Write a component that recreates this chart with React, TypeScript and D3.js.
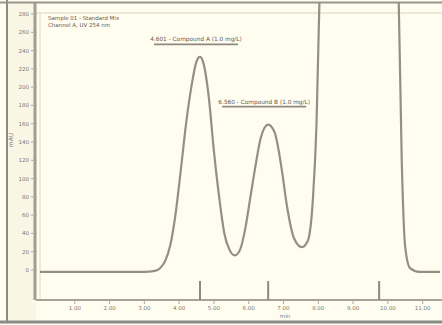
import React from "react";
import * as d3 from "d3";

const W = 442;
const H = 325;

// chromatogram trace: time (min), signal (mAU)
const times = [0.0, 1.0, 2.0, 3.0, 3.3, 3.45, 3.6, 3.75, 3.9, 4.05, 4.2, 4.35, 4.5, 4.6, 4.7, 4.85, 5.0, 5.15, 5.3, 5.45, 5.6, 5.75, 5.9, 6.05, 6.2, 6.35, 6.56, 6.75, 6.95, 7.1, 7.3, 7.53, 7.7, 7.85, 7.95, 8.05, 8.15, 10.2, 10.3, 10.4, 10.5, 10.64, 10.9, 11.5];
const signal = [-2, -2, -2, -2, -1, 2, 10, 28, 62, 110, 160, 200, 228, 233, 226, 190, 130, 80, 40, 22, 16, 22, 45, 80, 115, 145, 159, 150, 110, 70, 35, 25, 32, 80, 160, 320, 400, 400, 320, 120, 25, 2, -2, -2];

const peakTimes = [4.6, 6.56, 9.75];
const peakLabels = ["4.601 - Compound A (1.0 mg/L)", "6.560 - Compound B (1.0 mg/L)"];
const peakLabelTimes = [4.6, 6.56];
const peakLabelValues = [250, 182];

const legendLines = ["Sample 01 - Standard Mix", "Channel A, UV 254 nm"];

const xTicks = [1, 2, 3, 4, 5, 6, 7, 8, 9, 10, 11];
const yTicks = [0, 20, 40, 60, 80, 100, 120, 140, 160, 180, 200, 220, 240, 260, 280];

export default function App() {
  const x = d3.scaleLinear().domain([0, 11.5]).range([40, 440]);
  const y = d3.scaleLinear().domain([0, 280]).range([270, 14]);

  const pts: [number, number][] = times.map((t, i) => [t, signal[i]]);
  const line = d3
    .line<[number, number]>()
    .x((d) => x(d[0]))
    .y((d) => y(d[1]))
    .curve(d3.curveMonotoneX);

  const font = "DejaVu Sans, sans-serif";
  const ink = "#978e82";

  return (
    <svg
      width={W}
      height={H}
      style={{ position: "absolute", left: 0, top: 0, background: "#fffdf0" }}
      fontFamily={font}
    >
      <defs>
        <clipPath id="plotclip">
          <rect x={40} y={3} width={402} height={297} />
        </clipPath>
      </defs>
      {/* outer frame */}
      <rect x={0} y={0} width={W} height={H} fill="#fffdf0" />
      <rect x={8} y={3} width={28} height={318} fill="#f9f6e6" />
      <line x1={7} x2={7} y1={0} y2={323} stroke="#8a8a86" strokeWidth={2} />
      <line x1={0} x2={W} y1={2.5} y2={2.5} stroke="#9a958c" strokeWidth={2} />
      <line x1={36} x2={W} y1={13} y2={13} stroke="#e6e1cc" strokeWidth={1.5} />
      <line x1={0} x2={W} y1={322} y2={322} stroke="#8a8a86" strokeWidth={3} />

      {/* y axis */}
      <line x1={35} x2={35} y1={3} y2={300} stroke="#a49c90" strokeWidth={3} />
      <line x1={40} x2={40} y1={13} y2={300} stroke="#ddd8c6" strokeWidth={1} />
      {yTicks.map((v) => (
        <g key={v}>
          <line x1={31} x2={37} y1={y(v)} y2={y(v)} stroke="#b0a899" strokeWidth={1} />
          <text
            x={29}
            y={y(v) + 2}
            fontSize={5.5}
            textAnchor="end"
            fill="#7e786e"
          >
            {v}
          </text>
        </g>
      ))}
      <text
        x={13}
        y={140}
        fontSize={6}
        fill="#7e786e"
        textAnchor="middle"
        transform="rotate(-90 13 140)"
      >
        mAU
      </text>

      {/* x axis */}
      <line x1={36} x2={W} y1={300} y2={300} stroke="#aaa296" strokeWidth={2} />
      {xTicks.map((t) => (
        <g key={t}>
          <line x1={x(t)} x2={x(t)} y1={300} y2={304} stroke="#b0a899" strokeWidth={1} />
          <text x={x(t)} y={310} fontSize={5.5} textAnchor="middle" fill="#7e786e">
            {t.toFixed(2)}
          </text>
        </g>
      ))}
      <text x={285} y={318} fontSize={5.5} textAnchor="middle" fill="#7e786e">
        min
      </text>

      {/* legend */}
      {legendLines.map((s, i) => (
        <text key={s} x={48} y={20 + i * 7} fontSize={5.5} fill="#5f5a53">
          {s}
        </text>
      ))}

      {/* peak markers */}
      {peakTimes.map((t) => (
        <line
          key={t}
          x1={x(t)}
          x2={x(t)}
          y1={281}
          y2={300}
          stroke="#8f887d"
          strokeWidth={2}
        />
      ))}

      {/* trace */}
      <g clipPath="url(#plotclip)">
        <path d={line(pts) || ""} fill="none" stroke={ink} strokeWidth={2.2} />
      </g>

      {/* peak labels */}
      {peakLabels.map((s, i) => {
        const lx = x(peakLabelTimes[i]);
        const ly = y(peakLabelValues[i]);
        return (
          <g key={s}>
            <text x={lx - 4} y={ly} fontSize={5.8} textAnchor="middle" fill="#5f5a53">
              {s}
            </text>
            <line x1={lx - 46} x2={lx + 38} y1={ly + 3} y2={ly + 3} stroke="#8f897f" strokeWidth={1.8} />
          </g>
        );
      })}
    </svg>
  );
}
